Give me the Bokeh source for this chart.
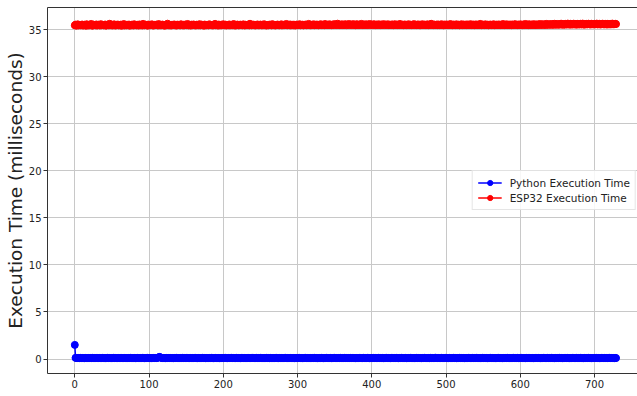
from bokeh.plotting import figure
from bokeh.models import FixedTicker, LinearAxis
from bokeh.embed import file_html
from bokeh.resources import INLINE

python_ms = [
    1.5, 0.12, 0.11, 0.1, 0.1, 0.11, 0.09, 0.1, 0.12, 0.1,
    0.11, 0.1, 0.1, 0.09, 0.11, 0.12, 0.1, 0.1, 0.11, 0.1,
    0.1, 0.11, 0.09, 0.1, 0.12, 0.1, 0.11, 0.1, 0.1, 0.11,
    0.12, 0.1, 0.1, 0.11, 0.09, 0.1, 0.1, 0.12, 0.11, 0.1,
    0.1, 0.09, 0.11, 0.1, 0.12, 0.1, 0.1, 0.11, 0.1, 0.09,
    0.11, 0.1, 0.12, 0.1, 0.1, 0.11, 0.1, 0.09, 0.1, 0.11,
    0.1, 0.12, 0.1, 0.11, 0.1, 0.09, 0.1, 0.11, 0.1, 0.12,
    0.1, 0.1, 0.11, 0.09, 0.1, 0.12, 0.1, 0.11, 0.1, 0.1,
    0.11, 0.1, 0.09, 0.1, 0.12, 0.11, 0.1, 0.1, 0.11, 0.1,
    0.1, 0.12, 0.1, 0.11, 0.09, 0.1, 0.1, 0.11, 0.12, 0.1,
    0.11, 0.1, 0.1, 0.09, 0.12, 0.1, 0.11, 0.1, 0.1, 0.11,
    0.1, 0.12, 0.14, 0.18, 0.22, 0.19, 0.14, 0.11, 0.1, 0.1,
    0.11, 0.1, 0.09, 0.1, 0.12, 0.1, 0.11, 0.1, 0.1, 0.11,
    0.1, 0.12, 0.1, 0.09, 0.11, 0.1, 0.1, 0.12, 0.1, 0.11,
    0.1, 0.1, 0.11, 0.09, 0.1, 0.12, 0.1, 0.1, 0.11, 0.1,
    0.12, 0.1, 0.11, 0.1, 0.09, 0.1, 0.11, 0.1, 0.12, 0.1,
    0.1, 0.11, 0.1, 0.12, 0.1, 0.09, 0.1, 0.11, 0.1, 0.1,
    0.11, 0.1, 0.12, 0.1, 0.1, 0.11, 0.09, 0.1, 0.12, 0.1,
    0.1, 0.11, 0.1, 0.1, 0.12, 0.1, 0.11, 0.09, 0.1, 0.11,
    0.12, 0.1, 0.1, 0.11, 0.1, 0.09, 0.1, 0.12, 0.1, 0.11,
    0.1, 0.1, 0.11, 0.12, 0.1, 0.1, 0.09, 0.11, 0.1, 0.1,
    0.11, 0.12, 0.1, 0.1, 0.11, 0.1, 0.09, 0.1, 0.12, 0.1,
    0.1, 0.11, 0.1, 0.09, 0.1, 0.12, 0.11, 0.1, 0.1, 0.11,
    0.1, 0.1, 0.12, 0.1, 0.11, 0.1, 0.09, 0.1, 0.11, 0.12,
    0.1, 0.11, 0.1, 0.1, 0.09, 0.12, 0.1, 0.11, 0.1, 0.1,
    0.12, 0.1, 0.11, 0.1, 0.1, 0.09, 0.11, 0.1, 0.12, 0.1,
    0.1, 0.11, 0.09, 0.1, 0.12, 0.1, 0.1, 0.11, 0.1, 0.1,
    0.11, 0.1, 0.12, 0.1, 0.09, 0.1, 0.11, 0.1, 0.1, 0.12,
    0.1, 0.1, 0.11, 0.1, 0.12, 0.1, 0.09, 0.11, 0.1, 0.1,
    0.12, 0.11, 0.1, 0.1, 0.11, 0.1, 0.09, 0.1, 0.12, 0.1,
    0.1, 0.11, 0.1, 0.12, 0.1, 0.1, 0.11, 0.09, 0.1, 0.11,
    0.1, 0.12, 0.1, 0.1, 0.11, 0.1, 0.1, 0.09, 0.12, 0.1,
    0.11, 0.1, 0.1, 0.12, 0.1, 0.11, 0.1, 0.09, 0.1, 0.11,
    0.1, 0.1, 0.12, 0.11, 0.1, 0.09, 0.1, 0.11, 0.1, 0.12,
    0.1, 0.11, 0.1, 0.1, 0.12, 0.1, 0.09, 0.1, 0.11, 0.1,
    0.12, 0.1, 0.11, 0.1, 0.1, 0.11, 0.09, 0.1, 0.12, 0.1,
    0.1, 0.11, 0.1, 0.12, 0.1, 0.1, 0.11, 0.1, 0.09, 0.11,
    0.1, 0.12, 0.1, 0.1, 0.11, 0.1, 0.12, 0.1, 0.09, 0.1,
    0.11, 0.1, 0.1, 0.12, 0.1, 0.11, 0.1, 0.1, 0.09, 0.12,
    0.1, 0.11, 0.1, 0.1, 0.12, 0.1, 0.11, 0.09, 0.1, 0.1,
    0.11, 0.1, 0.12, 0.1, 0.1, 0.11, 0.1, 0.09, 0.1, 0.12,
    0.1, 0.1, 0.11, 0.1, 0.12, 0.1, 0.09, 0.1, 0.11, 0.1,
    0.12, 0.1, 0.1, 0.11, 0.1, 0.09, 0.1, 0.12, 0.11, 0.1,
    0.1, 0.11, 0.1, 0.12, 0.1, 0.1, 0.09, 0.11, 0.1, 0.1,
    0.12, 0.1, 0.11, 0.1, 0.1, 0.12, 0.1, 0.09, 0.1, 0.11,
    0.1, 0.1, 0.12, 0.1, 0.11, 0.1, 0.1, 0.11, 0.09, 0.1,
    0.12, 0.1, 0.1, 0.11, 0.1, 0.12, 0.1, 0.09, 0.11, 0.1,
    0.1, 0.12, 0.1, 0.11, 0.1, 0.1, 0.11, 0.1, 0.09, 0.12,
    0.1, 0.1, 0.11, 0.1, 0.12, 0.1, 0.13, 0.11, 0.1, 0.1,
    0.11, 0.1, 0.09, 0.1, 0.12, 0.1, 0.11, 0.1, 0.1, 0.12,
    0.1, 0.11, 0.1, 0.09, 0.1, 0.12, 0.1, 0.1, 0.11, 0.1,
    0.12, 0.1, 0.1, 0.11, 0.09, 0.1, 0.11, 0.1, 0.12, 0.1,
    0.1, 0.11, 0.1, 0.12, 0.1, 0.09, 0.1, 0.11, 0.1, 0.1,
    0.12, 0.1, 0.11, 0.1, 0.1, 0.09, 0.12, 0.1, 0.11, 0.1,
    0.1, 0.12, 0.1, 0.11, 0.1, 0.1, 0.09, 0.11, 0.1, 0.12,
    0.1, 0.1, 0.11, 0.1, 0.12, 0.1, 0.09, 0.1, 0.11, 0.1,
    0.12, 0.1, 0.1, 0.11, 0.1, 0.1, 0.12, 0.09, 0.1, 0.11,
    0.1, 0.12, 0.1, 0.1, 0.11, 0.1, 0.09, 0.1, 0.12, 0.1,
    0.11, 0.1, 0.1, 0.12, 0.1, 0.11, 0.09, 0.1, 0.1, 0.11,
    0.1, 0.12, 0.1, 0.1, 0.11, 0.1, 0.12, 0.1, 0.09, 0.1,
    0.11, 0.1, 0.12, 0.1, 0.1, 0.11, 0.1, 0.09, 0.12, 0.1,
    0.1, 0.11, 0.1, 0.12, 0.1, 0.1, 0.11, 0.1, 0.09, 0.1,
    0.12, 0.1, 0.11, 0.1, 0.1, 0.12, 0.1, 0.09, 0.11, 0.1,
    0.1, 0.12, 0.1, 0.11, 0.1, 0.1, 0.09, 0.12, 0.1, 0.11,
    0.1, 0.1, 0.12, 0.1, 0.11, 0.1, 0.09, 0.1, 0.12, 0.1,
    0.11, 0.1, 0.1, 0.12, 0.1, 0.1, 0.11, 0.09, 0.1, 0.12,
    0.1, 0.11, 0.1, 0.1, 0.12, 0.1, 0.09, 0.11, 0.1, 0.1,
    0.12, 0.1, 0.11, 0.1, 0.1, 0.09, 0.12, 0.1, 0.11, 0.1,
    0.1, 0.12, 0.1, 0.11, 0.1, 0.09, 0.1, 0.12, 0.1, 0.11,
    0.1, 0.1, 0.12, 0.1, 0.11, 0.1, 0.09, 0.1, 0.12, 0.1,
    0.11, 0.1, 0.1, 0.12, 0.1, 0.11, 0.1, 0.09, 0.1, 0.12,
    0.1, 0.11, 0.1, 0.12, 0.1, 0.1, 0.11, 0.09, 0.1, 0.11,
    0.12, 0.1, 0.1, 0.11, 0.1, 0.12, 0.1, 0.09, 0.11, 0.1,
]

esp32_ms = [
    35.45, 35.52, 35.41, 35.48, 35.55, 35.43, 35.47, 35.50, 35.44, 35.49,
    35.53, 35.42, 35.46, 35.51, 35.47, 35.40, 35.56, 35.45, 35.48, 35.43,
    35.50, 35.46, 35.59, 35.44, 35.41, 35.52, 35.47, 35.49, 35.45, 35.54,
    35.42, 35.48, 35.51, 35.46, 35.43, 35.57, 35.45, 35.50, 35.47, 35.44,
    35.49, 35.53, 35.41, 35.46, 35.52, 35.48, 35.44, 35.61, 35.47, 35.45,
    35.51, 35.43, 35.48, 35.55, 35.46, 35.42, 35.50, 35.47, 35.53, 35.44,
    35.48, 35.45, 35.52, 35.40, 35.49, 35.46, 35.58, 35.43, 35.47, 35.51,
    35.44, 35.50, 35.46, 35.53, 35.41, 35.48, 35.45, 35.52, 35.47, 35.43,
    35.56, 35.46, 35.49, 35.44, 35.51, 35.47, 35.42, 35.54, 35.48, 35.45,
    35.50, 35.43, 35.60, 35.47, 35.45, 35.52, 35.46, 35.49, 35.41, 35.53,
    35.47, 35.44, 35.51, 35.48, 35.55, 35.45, 35.42, 35.50, 35.46, 35.49,
    35.52, 35.47, 35.43, 35.58, 35.46, 35.50, 35.44, 35.48, 35.53, 35.45,
    35.49, 35.41, 35.47, 35.52, 35.45, 35.62, 35.48, 35.44, 35.50, 35.46,
    35.43, 35.51, 35.47, 35.49, 35.54, 35.45, 35.48, 35.42, 35.52, 35.46,
    35.50, 35.47, 35.44, 35.56, 35.48, 35.45, 35.51, 35.43, 35.49, 35.53,
    35.46, 35.48, 35.59, 35.44, 35.50, 35.47, 35.42, 35.52, 35.45, 35.49,
    35.54, 35.46, 35.48, 35.43, 35.51, 35.47, 35.50, 35.45, 35.57, 35.44,
    35.48, 35.52, 35.46, 35.49, 35.41, 35.53, 35.47, 35.45, 35.50, 35.48,
    35.44, 35.55, 35.47, 35.51, 35.46, 35.49, 35.43, 35.52, 35.48, 35.60,
    35.45, 35.50, 35.47, 35.42, 35.53, 35.46, 35.49, 35.44, 35.51, 35.48,
    35.56, 35.45, 35.48, 35.52, 35.43, 35.50, 35.47, 35.46, 35.54, 35.44,
    35.49, 35.47, 35.51, 35.45, 35.58, 35.48, 35.42, 35.50, 35.46, 35.53,
    35.47, 35.44, 35.49, 35.52, 35.46, 35.50, 35.45, 35.55, 35.48, 35.43,
    35.51, 35.47, 35.46, 35.49, 35.53, 35.44, 35.61, 35.48, 35.45, 35.50,
    35.46, 35.52, 35.48, 35.43, 35.50, 35.47, 35.54, 35.45, 35.49, 35.46,
    35.53, 35.48, 35.44, 35.51, 35.47, 35.56, 35.46, 35.50, 35.42, 35.49,
    35.47, 35.45, 35.52, 35.48, 35.50, 35.44, 35.57, 35.46, 35.51, 35.48,
    35.43, 35.49, 35.47, 35.53, 35.46, 35.50, 35.45, 35.48, 35.55, 35.44,
    35.50, 35.47, 35.52, 35.46, 35.49, 35.59, 35.45, 35.51, 35.48, 35.46,
    35.54, 35.44, 35.49, 35.47, 35.52, 35.45, 35.50, 35.43, 35.48, 35.53,
    35.46, 35.51, 35.48, 35.56, 35.45, 35.49, 35.47, 35.52, 35.44, 35.50,
    35.48, 35.53, 35.46, 35.50, 35.47, 35.60, 35.49, 35.45, 35.51, 35.47,
    35.52, 35.48, 35.55, 35.46, 35.50, 35.47, 35.53, 35.49, 35.45, 35.51,
    35.49, 35.56, 35.47, 35.52, 35.48, 35.50, 35.46, 35.58, 35.51, 35.48,
    35.53, 35.47, 35.50, 35.55, 35.49, 35.52, 35.46, 35.51, 35.48, 35.57,
    35.50, 35.54, 35.48, 35.51, 35.62, 35.49, 35.53, 35.47, 35.52, 35.50,
    35.55, 35.48, 35.51, 35.49, 35.56, 35.52, 35.47, 35.53, 35.50, 35.58,
    35.49, 35.52, 35.54, 35.48, 35.51, 35.57, 35.50, 35.53, 35.46, 35.52,
    35.56, 35.50, 35.48, 35.53, 35.51, 35.49, 35.60, 35.52, 35.47, 35.54,
    35.51, 35.49, 35.55, 35.52, 35.48, 35.53, 35.50, 35.58, 35.49, 35.52,
    35.54, 35.48, 35.51, 35.56, 35.50, 35.47, 35.53, 35.51, 35.49, 35.55,
    35.50, 35.52, 35.47, 35.54, 35.49, 35.51, 35.57, 35.48, 35.52, 35.50,
    35.53, 35.49, 35.55, 35.47, 35.51, 35.50, 35.48, 35.54, 35.52, 35.46,
    35.51, 35.56, 35.49, 35.50, 35.53, 35.47, 35.52, 35.48, 35.59, 35.50,
    35.48, 35.52, 35.50, 35.46, 35.54, 35.49, 35.51, 35.47, 35.53, 35.50,
    35.55, 35.48, 35.51, 35.49, 35.46, 35.53, 35.50, 35.57, 35.48, 35.52,
    35.47, 35.50, 35.54, 35.49, 35.52, 35.45, 35.51, 35.48, 35.56, 35.50,
    35.49, 35.53, 35.47, 35.51, 35.48, 35.55, 35.46, 35.50, 35.52, 35.48,
    35.61, 35.49, 35.51, 35.47, 35.53, 35.50, 35.48, 35.52, 35.46, 35.54,
    35.50, 35.47, 35.52, 35.49, 35.56, 35.48, 35.51, 35.45, 35.53, 35.50,
    35.48, 35.54, 35.49, 35.51, 35.47, 35.52, 35.58, 35.48, 35.50, 35.46,
    35.53, 35.49, 35.51, 35.47, 35.55, 35.50, 35.48, 35.52, 35.45, 35.51,
    35.49, 35.56, 35.47, 35.50, 35.53, 35.48, 35.51, 35.46, 35.54, 35.49,
    35.52, 35.48, 35.50, 35.57, 35.47, 35.51, 35.49, 35.53, 35.46, 35.50,
    35.54, 35.49, 35.52, 35.47, 35.50, 35.48, 35.60, 35.51, 35.46, 35.53,
    35.49, 35.51, 35.47, 35.55, 35.50, 35.48, 35.52, 35.45, 35.51, 35.49,
    35.53, 35.47, 35.50, 35.49, 35.56, 35.46, 35.51, 35.48, 35.52, 35.50,
    35.47, 35.54, 35.49, 35.51, 35.46, 35.53, 35.48, 35.58, 35.50, 35.47,
    35.52, 35.49, 35.55, 35.48, 35.51, 35.47, 35.53, 35.50, 35.46, 35.54,
    35.50, 35.48, 35.52, 35.57, 35.49, 35.51, 35.47, 35.53, 35.50, 35.48,
    35.55, 35.49, 35.51, 35.47, 35.54, 35.50, 35.48, 35.59, 35.51, 35.49,
    35.52, 35.47, 35.56, 35.50, 35.48, 35.53, 35.51, 35.49, 35.57, 35.50,
    35.48, 35.54, 35.51, 35.49, 35.55, 35.52, 35.50, 35.58, 35.49, 35.53,
    35.51, 35.56, 35.50, 35.53, 35.49, 35.60, 35.52, 35.54, 35.50, 35.57,
    35.53, 35.51, 35.58, 35.52, 35.55, 35.50, 35.61, 35.53, 35.56, 35.51,
    35.59, 35.54, 35.52, 35.57, 35.53, 35.62, 35.55, 35.51, 35.58, 35.54,
    35.52, 35.60, 35.56, 35.53, 35.63, 35.55, 35.58, 35.52, 35.61, 35.54,
    35.57, 35.53, 35.62, 35.56, 35.54, 35.59, 35.52, 35.60, 35.55, 35.58,
    35.53, 35.61, 35.56, 35.54, 35.63, 35.57, 35.52, 35.59, 35.55, 35.60,
    35.54, 35.58, 35.62, 35.55, 35.57, 35.53, 35.61, 35.56, 35.59, 35.54,
    35.60, 35.55, 35.57, 35.63, 35.54, 35.58, 35.56, 35.61, 35.53, 35.59,
    35.56, 35.62, 35.55, 35.58, 35.54, 35.60, 35.57, 35.53, 35.61, 35.56,
    35.58, 35.54, 35.60, 35.56, 35.63, 35.55, 35.59, 35.57, 35.61, 35.58,
]

runs = list(range(len(esp32_ms)))
y_ticks = [0, 5, 10, 15, 20, 25, 30, 35]
x_ticks = [0, 100, 200, 300, 400, 500, 600, 700]

FONT = "DejaVu Sans"

p = figure(width=637, height=396, output_backend="svg", toolbar_location=None,
           x_range=(-36.77, 757.9), y_range=(-1.54, 37.34),
           min_border_left=47, min_border_right=0, min_border_top=7, min_border_bottom=23)

p.line(runs, python_ms, color="blue", line_width=1.5, legend_label="Python Execution Time")
p.scatter(runs, python_ms, color="blue", size=7, legend_label="Python Execution Time")
p.line(runs, esp32_ms, color="red", line_width=1.5, legend_label="ESP32 Execution Time")
p.scatter(runs, esp32_ms, color="red", size=7, legend_label="ESP32 Execution Time")

bottom = p.below[0]
left = p.left[0]
bottom.ticker = FixedTicker(ticks=x_ticks)
left.ticker = FixedTicker(ticks=y_ticks)
p.xgrid.ticker = FixedTicker(ticks=x_ticks)
p.ygrid.ticker = FixedTicker(ticks=y_ticks)

# top spine only (the right spine lies outside the cropped picture)
top = LinearAxis(ticker=FixedTicker(ticks=[]), major_tick_line_color=None,
                 minor_tick_line_color=None, axis_line_color="#333333",
                 major_label_standoff=0)
p.add_layout(top, "above")

left.axis_label = "Execution Time (milliseconds)"
left.axis_label_text_font = FONT
left.axis_label_text_font_style = "normal"
left.axis_label_text_font_size = "18.5px"
left.axis_label_text_color = "#222222"
left.axis_label_standoff = 0
for ax in (bottom, left):
    ax.major_label_text_font = FONT
    ax.major_label_text_font_size = "10px"
    ax.major_label_text_color = "#222222"
    ax.major_tick_out = 4
    ax.major_tick_in = 0
    ax.minor_tick_line_color = None
    ax.major_tick_line_color = "#333333"
    ax.axis_line_color = "#333333"
    ax.major_label_standoff = 2

p.outline_line_color = None
p.grid.grid_line_color = "#c8c8c8"
p.grid.grid_line_width = 1

p.legend.location = "center_right"
p.legend.label_text_font = FONT
p.legend.label_text_font_size = "10.5px"
p.legend.label_text_color = "#222222"
p.legend.border_line_color = "#cccccc"
p.legend.background_fill_alpha = 0.85
p.legend.glyph_width = 24
p.legend.glyph_height = 13
p.legend.label_height = 13
p.legend.spacing = 2
p.legend.padding = 5
p.legend.margin = 1
p.legend.label_standoff = 8

open("out.html", "w").write(file_html(p, INLINE))
